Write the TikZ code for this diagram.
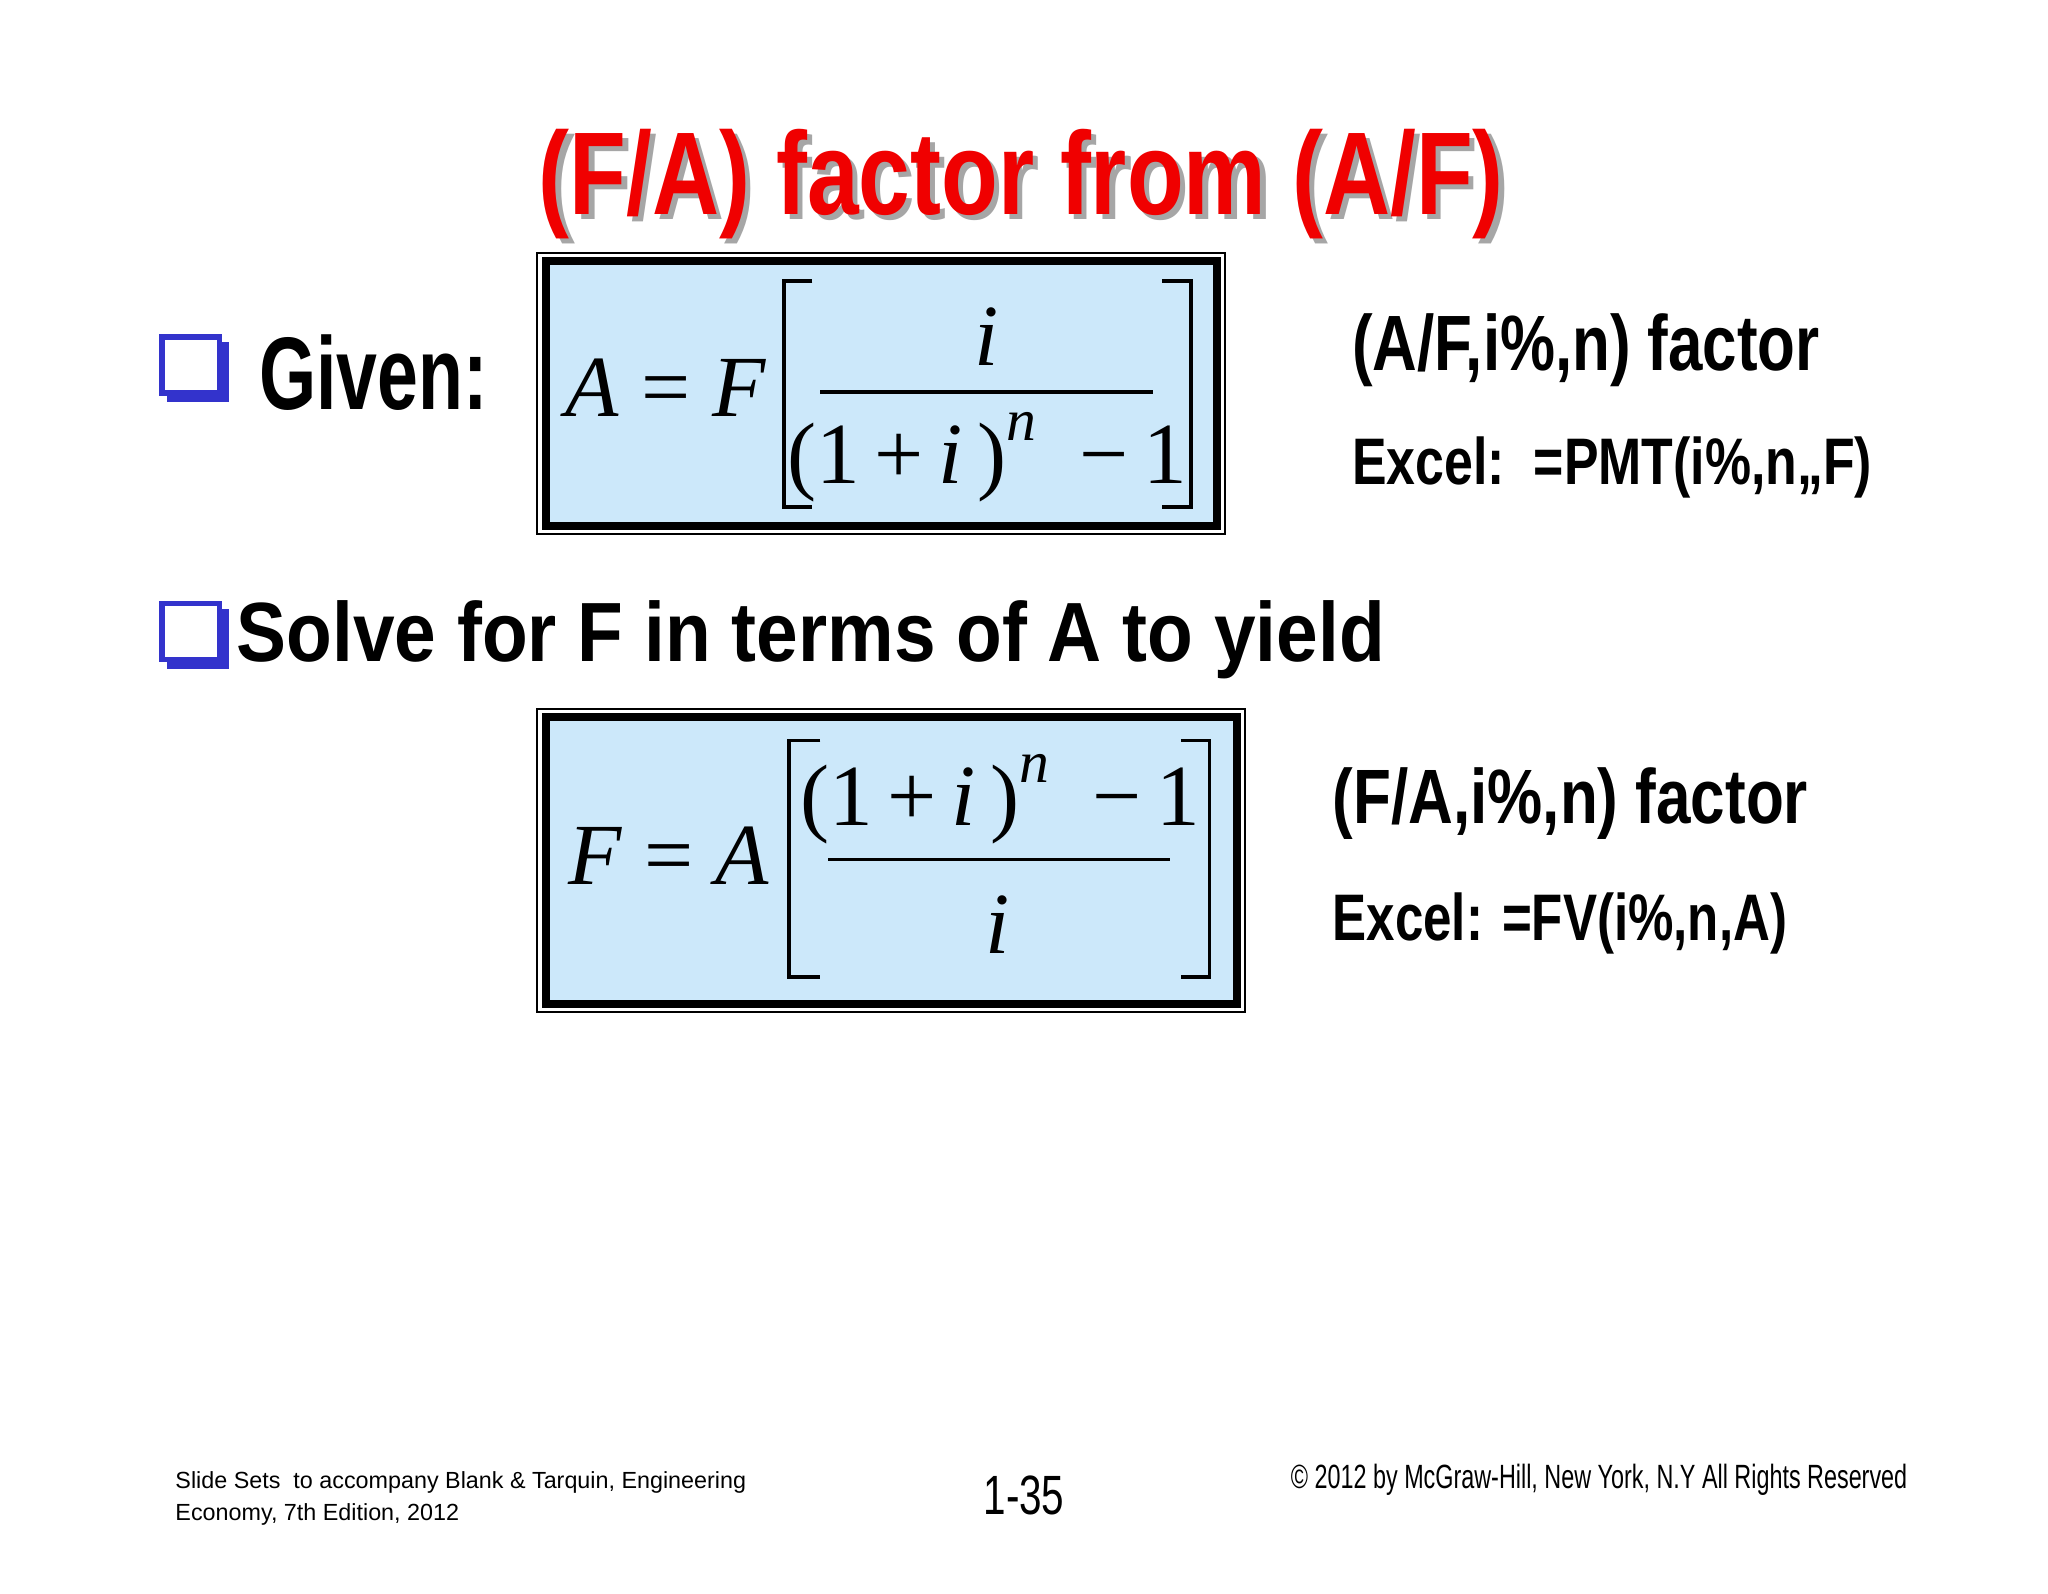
\documentclass[tikz,border=0pt]{standalone}
\usepackage{graphicx}
\usepackage{fontspec}
\setmainfont{Liberation Sans}
\newfontfamily\eqfont{Liberation Serif}
\definecolor{boxblue}{RGB}{204,232,250}
\definecolor{chk}{RGB}{51,51,204}
\definecolor{ttl}{RGB}{240,0,0}
\tikzset{
  txt/.style={inner sep=0pt,font=\bfseries},
  eqbox/.style={draw=black,line width=3.5pt,fill=boxblue},
  eqouter/.style={draw=black,line width=0.8pt},
  eqt/.style={inner sep=0pt,font=\eqfont\fontsize{38}{42}\selectfont},
  brk/.style={draw=black,line width=1.6pt},
  fracl/.style={draw=black,line width=1.6pt},
}
\newcommand{\fitwh}[3]{\resizebox*{#1}{#2}{#3}}
\newcommand{\denom}{(1\,+\,\textit{i}\,)\raisebox{0.5em}{\fontsize{26}{28}\selectfont\textit{n}}\ \ −\,1}
\begin{document}
\begin{tikzpicture}[x=0.02cm,y=-0.02cm]
\useasboundingbox[fill=white] (0,0) rectangle (1568,1220);
% title
\node[txt,text=black!35] (tsh) at (786,145) {\fitwh{14.78cm}{1.68cm}{(F/A) factor from (A/F)}};
\node[txt,text=ttl] (title) at (782,141) {\fitwh{14.78cm}{1.68cm}{(F/A) factor from (A/F)}};
% checkbox 1
\fill[chk] (128,262) rectangle (175,308);
\filldraw[fill=white,draw=chk,line width=2.5pt] (124,258) rectangle (168,301);
\node[txt,anchor=west] (given) at (198,285) {\fitwh{3.5cm}{1.16cm}{Given:}};
% box 1
\draw[eqouter] (411,194) rectangle (938,409);
\draw[eqbox] (418,200) rectangle (932,403);
\node[eqt] (lhs1) at (510,297) {\textit{A} = \textit{F}};
\draw[brk] (622,215) -- (600,215) -- (600,388) -- (622,388);
\draw[brk] (890,215) -- (912,215) -- (912,388) -- (890,388);
\draw[fracl] (628,300) -- (883,300);
\node[eqt] (num1) at (755,258) {\textit{i}};
\node[eqt] (den1) at (756,350) {\denom};
\node[txt,anchor=west] (af) at (1035,268) {\fitwh{7.16cm}{1.12cm}{(A/F,i\%,n) factor}};
\node[txt,anchor=west] (ex1) at (1035,358) {\fitwh{7.96cm}{0.94cm}{Excel:\ \ =PMT(i\%,n,,F)}};
% checkbox 2
\fill[chk] (128,466) rectangle (175,512);
\filldraw[fill=white,draw=chk,line width=2.5pt] (124,462) rectangle (168,505);
\node[txt,anchor=west] (solve) at (181,490) {\fitwh{17.58cm}{1.2cm}{Solve for F in terms of A to yield}};
% box 2
\draw[eqouter] (411,543) rectangle (953,775);
\draw[eqbox] (418,549) rectangle (947,769);
\node[eqt] (lhs2) at (512,655) {\textit{F} = \textit{A}};
\draw[brk] (628,567) -- (604,567) -- (604,748) -- (628,748);
\draw[brk] (904,567) -- (926,567) -- (926,748) -- (904,748);
\draw[fracl] (634,658) -- (896,658);
\node[eqt] (num2) at (766,612) {\denom};
\node[eqt] (den2) at (764,708) {\textit{i}};
\node[txt,anchor=west] (fa) at (1020,615) {\fitwh{7.28cm}{1.1cm}{(F/A,i\%,n) factor}};
\node[txt,anchor=west] (ex2) at (1020,707) {\fitwh{6.96cm}{0.94cm}{Excel: =FV(i\%,n,A)}};
% footer
\node[inner sep=0pt,anchor=north west] (foot1) at (134,1124) {\resizebox{8.74cm}{!}{\begin{tabular}{@{}l@{}}Slide Sets\ \ to accompany Blank \& Tarquin, Engineering\\[2pt] Economy, 7th Edition, 2012\end{tabular}}};
\node[inner sep=0pt] (pg) at (784,1145) {\fitwh{1.24cm}{0.6cm}{1-35}};
\node[inner sep=0pt,anchor=west] (copy) at (988,1133) {\fitwh{9.44cm}{0.48cm}{\textcopyright{} 2012 by McGraw-Hill, New York, N.Y All Rights Reserved}};
\end{tikzpicture}
\end{document}
